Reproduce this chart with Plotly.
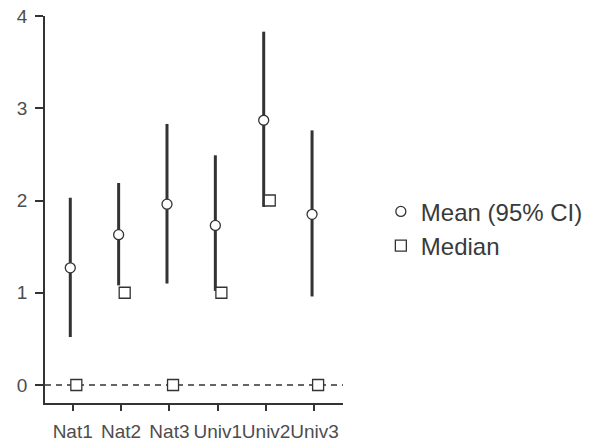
import plotly.graph_objects as go

categories = ["Nat1", "Nat2", "Nat3", "Univ1", "Univ2", "Univ3"]
mean_vals = [1.27, 1.63, 1.96, 1.73, 2.87, 1.85]
ci_low = [0.52, 1.08, 1.10, 1.02, 1.93, 0.96]
ci_high = [2.03, 2.19, 2.83, 2.49, 3.83, 2.76]
median_vals = [0, 1, 0, 1, 2, 0]
y_ticks = [0, 1, 2, 3, 4]

pos = list(range(1, len(categories) + 1))
mean_x = [p - 0.05 for p in pos]
median_x = [p + 0.075 for p in pos]

dark = "#333333"
font_fam = "Liberation Sans, Arial, sans-serif"

fig = go.Figure()

fig.add_trace(go.Scatter(
    x=mean_x, y=mean_vals, mode="markers", name="Mean (95% CI)",
    marker=dict(symbol="circle", size=10, color="white", line=dict(color=dark, width=1.3)),
    error_y=dict(type="data", symmetric=False,
                 array=[h - m for h, m in zip(ci_high, mean_vals)],
                 arrayminus=[m - l for m, l in zip(mean_vals, ci_low)],
                 width=0, thickness=3, color=dark),
))
fig.add_trace(go.Scatter(
    x=median_x, y=median_vals, mode="markers", name="Median",
    marker=dict(symbol="square", size=11, color="white", line=dict(color=dark, width=1.3)),
))

fig.add_shape(type="line", xref="paper", x0=0, x1=1, yref="y", y0=0, y1=0,
              line=dict(color=dark, width=1.5, dash="6px,5px"), layer="below")

fig.update_layout(
    width=600, height=443,
    margin=dict(l=45, r=257, t=16, b=40, autoexpand=False),
    paper_bgcolor="white", plot_bgcolor="white",
    font=dict(family=font_fam, size=19, color="#4d4d4d"),
    showlegend=True,
    legend=dict(x=1.127, xanchor="left", y=0.45, yanchor="middle",
                font=dict(size=24, color="#3a3a3a"), itemwidth=30,
                bgcolor="rgba(0,0,0,0)", tracegroupgap=0),
    xaxis=dict(range=[0.427, 6.59], tickvals=pos, ticktext=categories, tickangle=0,
               showgrid=False, zeroline=False, showline=True, linecolor=dark, linewidth=1.5,
               ticks="outside", ticklen=6, tickwidth=1.5, tickcolor=dark, automargin=False,
               tickfont=dict(size=19, color="#4d4d4d"), ticklabelstandoff=4),
    yaxis=dict(range=[-0.195, 4.0], tickvals=y_ticks,
               showgrid=False, zeroline=False, showline=True, linecolor=dark, linewidth=1.5,
               ticks="outside", ticklen=8, tickwidth=1.5, tickcolor=dark, automargin=False,
               tickfont=dict(size=19, color="#4d4d4d"), ticklabelstandoff=4),
)

fig.write_html("out.html")
